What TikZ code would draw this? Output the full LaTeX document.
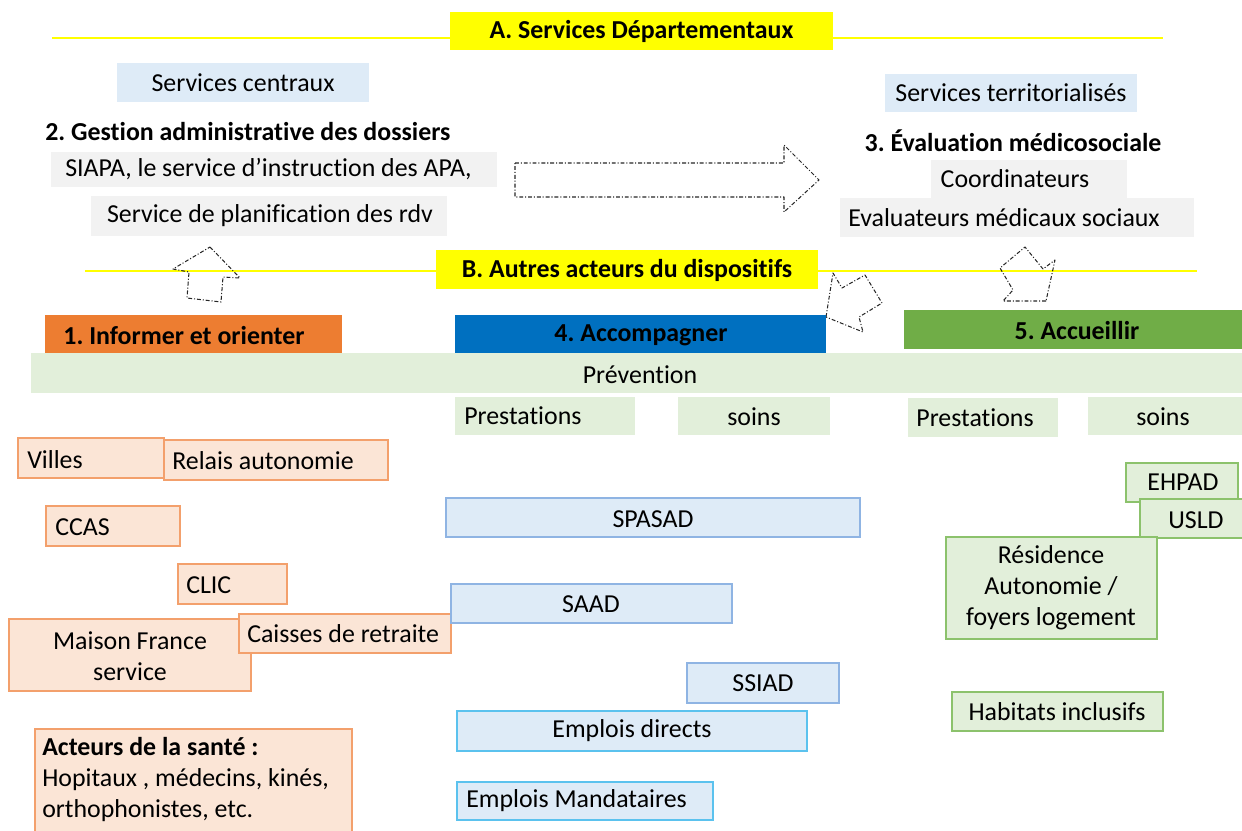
\documentclass[tikz,border=0pt]{standalone}
\usepackage{fontspec}
\setmainfont{Carlito}[Ligatures=CommonOff]
\frenchspacing
\definecolor{jaune}{HTML}{FFFF00}
\definecolor{gris}{HTML}{F2F2F2}
\definecolor{bleuclair}{HTML}{DEEBF7}
\definecolor{bleubord}{HTML}{8FB4E3}
\definecolor{cyanbord}{HTML}{5BC2EE}
\definecolor{orfonce}{HTML}{ED7D31}
\definecolor{bleufonce}{HTML}{0070C0}
\definecolor{vertfonce}{HTML}{70AD47}
\definecolor{vertclair}{HTML}{E2EFDA}
\definecolor{vertbord}{HTML}{8CC26C}
\definecolor{orclair}{HTML}{FBE5D6}
\definecolor{orbord}{HTML}{F3A06C}

\begin{document}
\begin{tikzpicture}[x=0.773pt,y=-0.773pt,font=\fontsize{20}{24}\selectfont,
  every node/.style={inner sep=0pt},
  gras/.style={font=\fontsize{20}{24}\selectfont\bfseries},
  orbox/.style={fill=orclair,draw=orbord,line width=0.9pt},
  bleubox/.style={fill=bleuclair,draw=bleubord,line width=0.9pt},
  vertbox/.style={fill=vertclair,draw=vertbord,line width=0.9pt},
  fleche/.style={draw=black!85,line width=0.8pt,line join=round,dash pattern=on 3pt off 1.5pt on 0.8pt off 1.5pt}]
\useasboundingbox (0,0) rectangle (1242,830);
%A. services departementaux
\draw[jaune,line width=1.2pt] (52,38) -- (1163,38);
\fill[jaune] (450,12) rectangle (833,50);
\node[gras] (servdep) at (641.5,31) {A. Services Départementaux};
%services centraux
\fill[bleuclair] (117,63) rectangle (369,102);
\node (central) at (243,83) {Services centraux};
\node[gras,anchor=west] (gestion) at (45,132) {2. Gestion administrative des dossiers};
\fill[gris] (51,152) rectangle (497,187);
\node[anchor=west] (siapa) at (65,169) {SIAPA, le service d’instruction des APA,};
\fill[gris] (91,196) rectangle (447,236);
\node (planif) at (270,216) {Service de planification des rdv};
%fleche vers la droite
\draw[fleche] (515,163) -- (784,163) -- (784,145) -- (819,180) -- (784,212) -- (784,197) -- (515,197) -- cycle;
%services territorialises
\fill[bleuclair] (885,74) rectangle (1137,112);
\node (territ) at (1011,93) {Services territorialisés};
\node[gras] (evaluation) at (1013,141) {3. Évaluation médicosociale};
\fill[gris] (931,160) rectangle (1127,198);
\node (coord) at (1015,179) {Coordinateurs};
\fill[gris] (840,198) rectangle (1194,237);
\node[anchor=west] (evalmed) at (848,218) {Evaluateurs médicaux sociaux};
%B. autres acteurs
\draw[jaune,line width=1.2pt] (85,271) -- (1197,271);
\fill[jaune] (436,250) rectangle (818,289);
\node[gras] (autres) at (627,270) {B. Autres acteurs du dispositifs};
%fleches en pointilles
\draw[fleche] (210,247) -- (240,278) -- (223,277) -- (221,302) -- (187,298) -- (189,272) -- (173,269) -- cycle;
\draw[fleche] (826,317) -- (833,273) -- (842,288) -- (865,275) -- (882,303) -- (859,317) -- (863,332) -- cycle;
\draw[fleche] (1046,301) -- (1003,301) -- (1013,290) -- (1000,268) -- (1025,247) -- (1043,269) -- (1055,260) -- cycle;
%en-tetes 1, 4, 5
\fill[orfonce] (45,315) rectangle (342,353);
\node[gras] (informer) at (184,336) {1. Informer et orienter};
\fill[bleufonce] (455,315) rectangle (826,354);
\node[gras] (accomp) at (641,335) {4. Accompagner};
\fill[vertfonce] (904,310) rectangle (1242,349);
\node[gras] (accueil) at (1077,331) {5. Accueillir};
%prevention
\fill[vertclair] (31,353) rectangle (1242,393);
\node (prev) at (640,375) {Prévention};
\fill[vertclair] (455,397) rectangle (635,435);
\node[anchor=west] (prest1) at (464,416) {Prestations};
\fill[vertclair] (678,397) rectangle (830,435);
\node (soins1) at (754,417) {soins};
\fill[vertclair] (908,398) rectangle (1058,437);
\node (prest2) at (975,418) {Prestations};
\fill[vertclair] (1088,397) rectangle (1242,435);
\node (soins2) at (1163,417) {soins};
%acteurs colonne 1
\draw[orbox] (18,438) rectangle (164,478);
\node[anchor=west] (villes) at (27,460) {Villes};
\draw[orbox] (164,440) rectangle (388,480);
\node[anchor=west] (relais) at (172,461) {Relais autonomie};
\draw[orbox] (46,506) rectangle (180,546);
\node[anchor=west] (ccas) at (55,527) {CCAS};
\draw[orbox] (178,564) rectangle (287,604);
\node[anchor=west] (clic) at (186,585) {CLIC};
\draw[orbox] (9,619) rectangle (251,691);
\node[align=center] (maison) at (130,656) {Maison France\\service};
\draw[orbox] (239,614) rectangle (451,653);
\node[anchor=west] (caisses) at (247,634) {Caisses de retraite};
\draw[orbox] (35,729) rectangle (352,845);
\node[anchor=north west,align=left] (sante) at (42,737) {\textbf{Acteurs de la santé :}\\Hopitaux , médecins, kinés,\\orthophonistes, etc.};
%acteurs colonne 4
\draw[bleubox] (446,498) rectangle (860,537);
\node (spasad) at (653,519) {SPASAD};
\draw[bleubox] (451,584) rectangle (732,623);
\node (saad) at (591,604) {SAAD};
\draw[bleubox] (687,663) rectangle (839,703);
\node (ssiad) at (763,683) {SSIAD};
\draw[bleubox,draw=cyanbord] (457,711) rectangle (807,751);
\node (emploisd) at (632,731) {Emplois directs};
\draw[bleubox,draw=cyanbord] (457,782) rectangle (713,820);
\node[anchor=west] (emploism) at (466,801) {Emplois Mandataires};
%acteurs colonne 5
\draw[vertbox] (1126,463) rectangle (1238,502);
\node (ehpad) at (1183,482) {EHPAD};
\draw[vertbox] (1140,499) rectangle (1252,538);
\node (usld) at (1196,520) {USLD};
\draw[vertbox] (946,537) rectangle (1157,639);
\node[align=center] (residence) at (1051,588) {Résidence\\Autonomie /\\foyers logement};
\draw[vertbox] (952,692) rectangle (1163,731);
\node (habitats) at (1057,712) {Habitats inclusifs};
\end{tikzpicture}
\end{document}
